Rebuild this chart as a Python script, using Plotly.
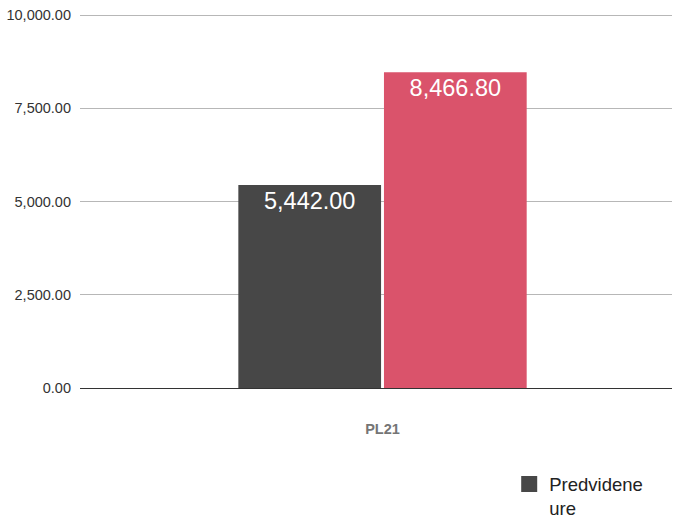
import plotly.graph_objects as go

categories = ["PL21"]
predvidene_ure = [5442.00]
druga_serija = [8466.80]
tick_vals = [0, 2500, 5000, 7500, 10000]
tick_text = ["0.00", "2,500.00", "5,000.00", "7,500.00", "10,000.00"]

DARK = "#474747"
PINK = "#DA536B"

fig = go.Figure()
fig.add_trace(go.Bar(
    x=categories, y=predvidene_ure, name="Predvidene<br>ure",
    marker=dict(color=DARK, line=dict(width=0)),
    text=[f"{v:,.2f}" for v in predvidene_ure],
    textposition="inside", insidetextanchor="end",
    textfont=dict(color="white", size=23.5, family="Liberation Sans"),
    showlegend=False,
))
fig.add_trace(go.Bar(
    x=categories, y=druga_serija, name="",
    marker=dict(color=PINK, line=dict(width=0)),
    text=[f"{v:,.2f}" for v in druga_serija],
    textposition="inside", insidetextanchor="end",
    textfont=dict(color="white", size=23.5, family="Liberation Sans"),
    showlegend=False,
))
# legend entry (square swatch)
fig.add_trace(go.Scatter(
    x=[None], y=[None], mode="markers", name="Predvidene<br>ure",
    marker=dict(symbol="square", size=22, color=DARK),
    showlegend=True,
))

fig.update_layout(
    width=682, height=519,
    margin=dict(l=80, r=10, t=14, b=131, autoexpand=False),
    paper_bgcolor="white", plot_bgcolor="white",
    barmode="group", bargap=0.508, bargroupgap=0.02,
    font=dict(family="Liberation Sans", color="#333333"),
    showlegend=True,
    legend=dict(
        x=0.725, y=-0.207, xanchor="left", yanchor="top",
        font=dict(size=18.5, color="#222222"),
        itemsizing="trace", bgcolor="rgba(0,0,0,0)", valign="top",
        tracegroupgap=0,
    ),
)
fig.update_xaxes(
    type="category", range=[-0.511, 0.489], automargin=False,
    showgrid=False, showline=False, ticks="",
    tickfont=dict(size=14.5, color="#757575", family="Liberation Sans"),
    ticklabelstandoff=30,
)
fig.update_xaxes(tickvals=categories, ticktext=["<b>PL21</b>"])
fig.update_yaxes(
    range=[0, 10030], tickvals=tick_vals, ticktext=tick_text, automargin=False,
    showgrid=True, gridcolor="#B7B7B7", gridwidth=1,
    zeroline=True, zerolinecolor="#333333", zerolinewidth=1,
    showline=False, ticks="",
    tickfont=dict(size=14.5, color="#333333", family="Liberation Sans"),
    ticklabelstandoff=8,
)

fig.write_html(
    "out.html",
    config={"displayModeBar": False},
    post_script="document.body.style.margin='0';document.body.style.overflow='hidden';",
)
